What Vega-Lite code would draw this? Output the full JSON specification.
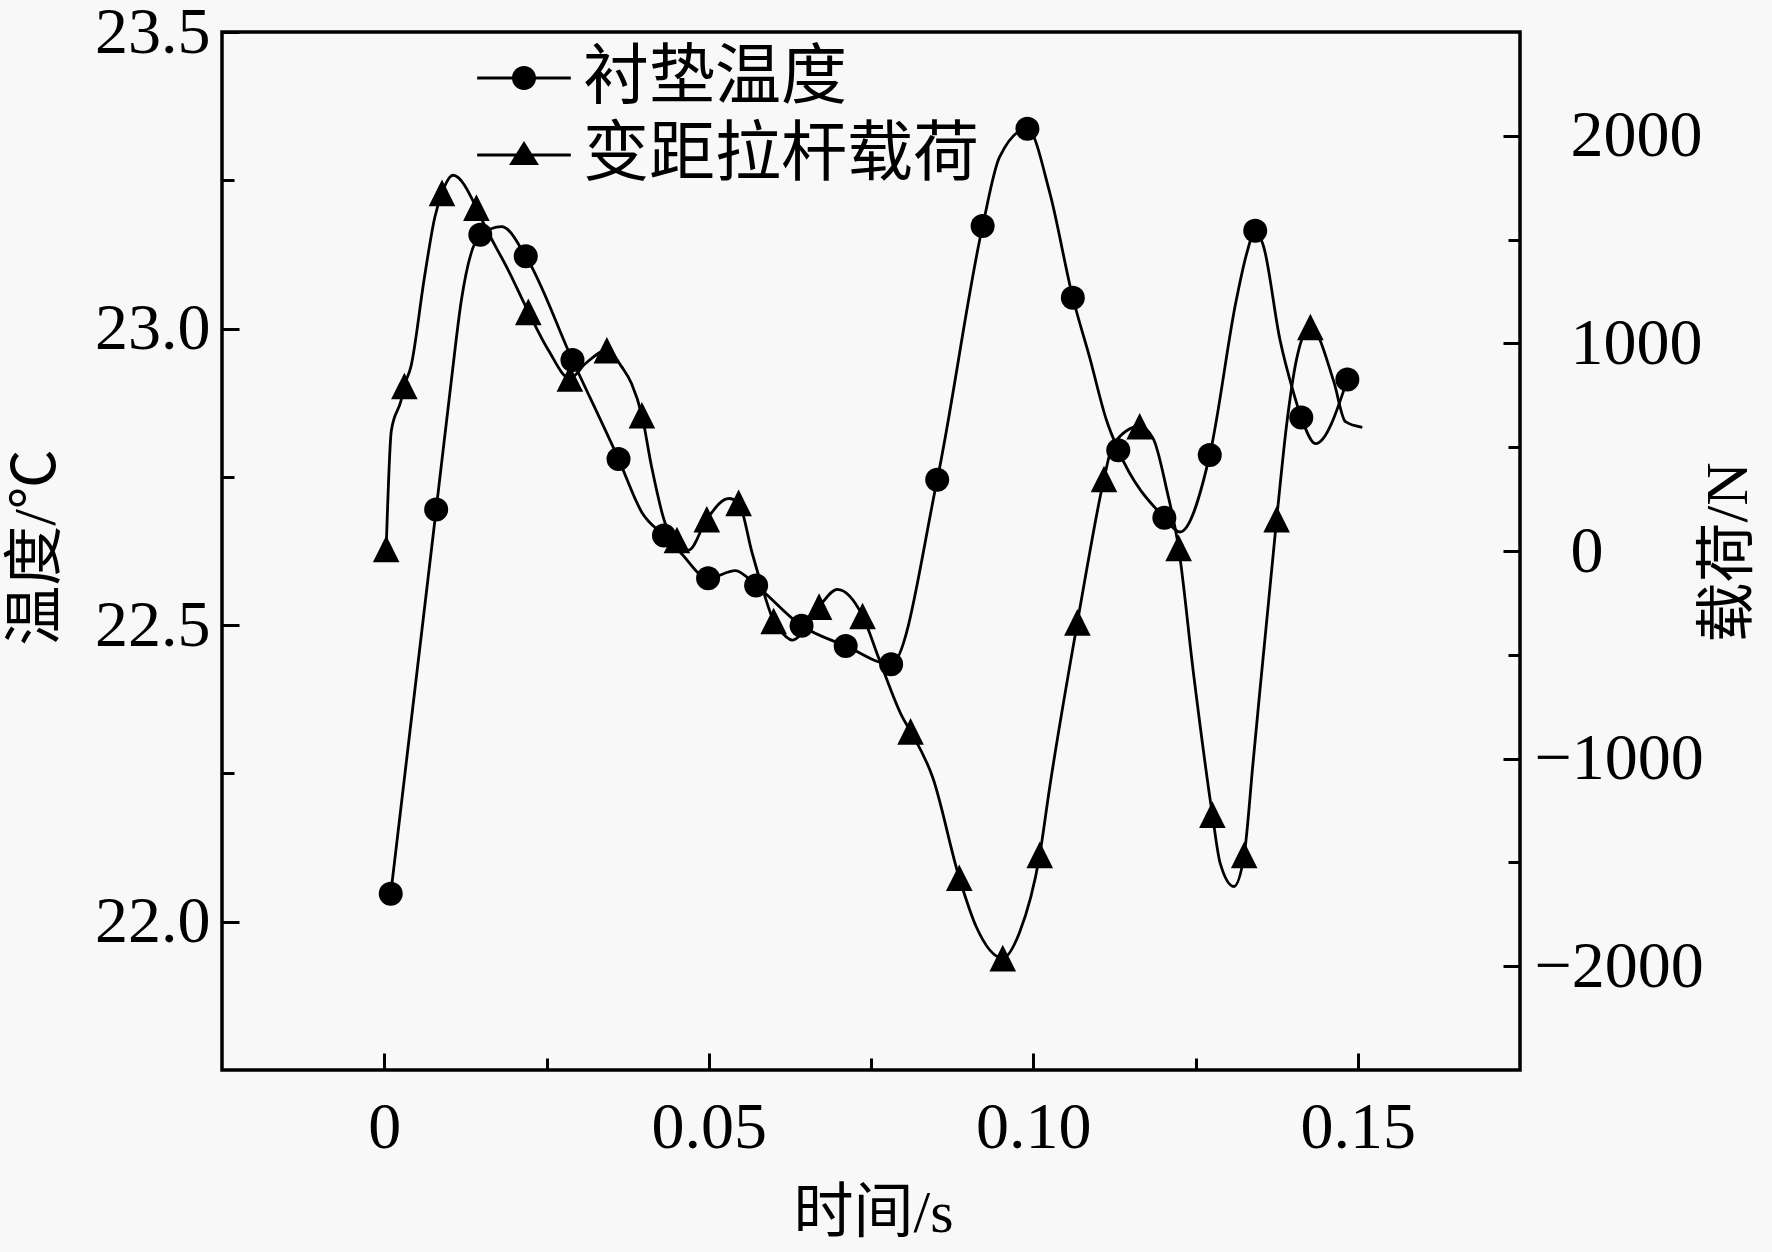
{
  "$schema": "https://vega.github.io/schema/vega-lite/v6.json",
  "autosize": "none",
  "width": 1298,
  "height": 1038,
  "padding": {"left": 222, "top": 32, "right": 252, "bottom": 182},
  "background": "#f8f8f8",
  "datasets": {
    "tempLine": [
      {"t": 0.001, "T": 22.047}, {"t": 0.008, "T": 22.695}, {"t": 0.0103, "T": 22.909}, {"t": 0.0119, "T": 23.049},
      {"t": 0.0148, "T": 23.158}, {"t": 0.0181, "T": 23.172}, {"t": 0.0218, "T": 23.122}, {"t": 0.029, "T": 22.947},
      {"t": 0.0361, "T": 22.78}, {"t": 0.0397, "T": 22.69}, {"t": 0.0431, "T": 22.651}, {"t": 0.0456, "T": 22.623},
      {"t": 0.0499, "T": 22.579}, {"t": 0.0541, "T": 22.592}, {"t": 0.0573, "T": 22.567}, {"t": 0.0643, "T": 22.499},
      {"t": 0.0711, "T": 22.465}, {"t": 0.0781, "T": 22.434}, {"t": 0.0852, "T": 22.745}, {"t": 0.0922, "T": 23.173},
      {"t": 0.0948, "T": 23.289}, {"t": 0.0991, "T": 23.337}, {"t": 0.1025, "T": 23.231}, {"t": 0.1061, "T": 23.052},
      {"t": 0.1087, "T": 22.951}, {"t": 0.1113, "T": 22.845}, {"t": 0.1131, "T": 22.795}, {"t": 0.1202, "T": 22.681},
      {"t": 0.1226, "T": 22.657}, {"t": 0.1272, "T": 22.787}, {"t": 0.1313, "T": 23.049}, {"t": 0.1329, "T": 23.127},
      {"t": 0.1342, "T": 23.165}, {"t": 0.1355, "T": 23.138}, {"t": 0.138, "T": 22.982}, {"t": 0.1401, "T": 22.892},
      {"t": 0.1413, "T": 22.85}, {"t": 0.1435, "T": 22.806}, {"t": 0.1484, "T": 22.914}
    ],
    "tempMarks": [
      {"t": 0.001, "T": 22.047}, {"t": 0.008, "T": 22.695}, {"t": 0.0148, "T": 23.158}, {"t": 0.0218, "T": 23.122},
      {"t": 0.029, "T": 22.947}, {"t": 0.0361, "T": 22.78}, {"t": 0.0431, "T": 22.651}, {"t": 0.0499, "T": 22.579},
      {"t": 0.0573, "T": 22.567}, {"t": 0.0643, "T": 22.499}, {"t": 0.0711, "T": 22.465}, {"t": 0.0781, "T": 22.434},
      {"t": 0.0852, "T": 22.745}, {"t": 0.0922, "T": 23.173}, {"t": 0.0991, "T": 23.337}, {"t": 0.1061, "T": 23.052},
      {"t": 0.1131, "T": 22.795}, {"t": 0.1202, "T": 22.681}, {"t": 0.1272, "T": 22.787}, {"t": 0.1342, "T": 23.165},
      {"t": 0.1413, "T": 22.85}, {"t": 0.1484, "T": 22.914}
    ],
    "loadLine": [
      {"t": 0.0003, "L": 10}, {"t": 0.0011, "L": 582}, {"t": 0.0026, "L": 726}, {"t": 0.0031, "L": 795},
      {"t": 0.0041, "L": 887}, {"t": 0.0062, "L": 1320}, {"t": 0.0078, "L": 1609}, {"t": 0.0089, "L": 1725},
      {"t": 0.0106, "L": 1810}, {"t": 0.0142, "L": 1654}, {"t": 0.0152, "L": 1585}, {"t": 0.0191, "L": 1353},
      {"t": 0.0222, "L": 1152}, {"t": 0.0253, "L": 967}, {"t": 0.0286, "L": 831}, {"t": 0.031, "L": 903},
      {"t": 0.0343, "L": 967}, {"t": 0.0366, "L": 887}, {"t": 0.0381, "L": 807}, {"t": 0.0397, "L": 654},
      {"t": 0.0412, "L": 405}, {"t": 0.0433, "L": 133}, {"t": 0.0451, "L": 53}, {"t": 0.0469, "L": 4},
      {"t": 0.0497, "L": 153}, {"t": 0.0531, "L": 253}, {"t": 0.0546, "L": 232}, {"t": 0.0567, "L": -11},
      {"t": 0.0582, "L": -172}, {"t": 0.06, "L": -337}, {"t": 0.0614, "L": -397}, {"t": 0.0629, "L": -429},
      {"t": 0.067, "L": -268}, {"t": 0.0698, "L": -185}, {"t": 0.0737, "L": -313}, {"t": 0.0763, "L": -525},
      {"t": 0.0798, "L": -798}, {"t": 0.0811, "L": -869}, {"t": 0.0845, "L": -1090}, {"t": 0.0886, "L": -1574},
      {"t": 0.0912, "L": -1809}, {"t": 0.0953, "L": -1961}, {"t": 0.0979, "L": -1836}, {"t": 0.101, "L": -1464},
      {"t": 0.1025, "L": -1145}, {"t": 0.1068, "L": -344}, {"t": 0.1082, "L": -95}, {"t": 0.1109, "L": 347},
      {"t": 0.1123, "L": 513}, {"t": 0.1164, "L": 601}, {"t": 0.1185, "L": 540}, {"t": 0.1206, "L": 291},
      {"t": 0.1224, "L": 15}, {"t": 0.1247, "L": -592}, {"t": 0.1276, "L": -1270}, {"t": 0.1288, "L": -1504},
      {"t": 0.1309, "L": -1616}, {"t": 0.1325, "L": -1464}, {"t": 0.1339, "L": -1008}, {"t": 0.1375, "L": 153},
      {"t": 0.1391, "L": 623}, {"t": 0.1406, "L": 928}, {"t": 0.1427, "L": 1079}, {"t": 0.1463, "L": 817},
      {"t": 0.1481, "L": 623}, {"t": 0.1507, "L": 596}
    ],
    "loadMarks": [
      {"t": 0.0003, "L": 10}, {"t": 0.0031, "L": 795}, {"t": 0.0089, "L": 1725}, {"t": 0.0142, "L": 1654},
      {"t": 0.0222, "L": 1152}, {"t": 0.0286, "L": 831}, {"t": 0.0343, "L": 967}, {"t": 0.0397, "L": 654},
      {"t": 0.0451, "L": 53}, {"t": 0.0497, "L": 153}, {"t": 0.0546, "L": 232}, {"t": 0.06, "L": -337},
      {"t": 0.067, "L": -268}, {"t": 0.0737, "L": -313}, {"t": 0.0811, "L": -869}, {"t": 0.0886, "L": -1574},
      {"t": 0.0953, "L": -1961}, {"t": 0.101, "L": -1464}, {"t": 0.1068, "L": -344}, {"t": 0.1109, "L": 347},
      {"t": 0.1164, "L": 601}, {"t": 0.1224, "L": 15}, {"t": 0.1276, "L": -1270}, {"t": 0.1325, "L": -1464},
      {"t": 0.1375, "L": 153}, {"t": 0.1427, "L": 1079}
    ]
  },
  "encoding": {
    "x": {
      "field": "t",
      "type": "quantitative",
      "scale": {"domain": [-0.025, 0.175], "nice": false, "zero": false},
      "axis": {
        "orient": "bottom",
        "values": [0, 0.025, 0.05, 0.075, 0.1, 0.125, 0.15],
        "labelExpr": "datum.value === 0 ? '0' : (abs(datum.value * 20 - round(datum.value * 20)) < 0.001 ? format(datum.value, '.2f') : '')",
        "tickSize": {"condition": {"test": "abs(datum.value * 20 - round(datum.value * 20)) < 0.001", "value": -17}, "value": -12},
        "labelPadding": 42,
        "title": "时间/s",
        "titleX": 651,
        "titleY": 143,
        "titleAlign": "center",
        "titleBaseline": "middle"
      }
    }
  },
  "layer": [
    {
      "encoding": {
        "y": {
          "field": "T",
          "type": "quantitative",
          "scale": {"domain": [21.75, 23.5], "nice": false, "zero": false},
          "axis": {
            "orient": "left",
            "values": [22, 22.25, 22.5, 22.75, 23, 23.25, 23.5],
            "labelExpr": "abs(datum.value * 2 - round(datum.value * 2)) < 0.001 ? format(datum.value, '.1f') : ''",
            "tickSize": {"condition": {"test": "abs(datum.value * 2 - round(datum.value * 2)) < 0.001", "value": -17}, "value": -12},
            "labelPadding": 29,
            "title": "温度/℃",
            "titleAngle": 270,
            "titleX": -186,
            "titleY": 515,
            "titleAlign": "center",
            "titleBaseline": "middle"
          }
        }
      },
      "layer": [
        {
          "data": {"name": "tempLine"},
          "mark": {"type": "line", "interpolate": "monotone", "color": "black", "strokeWidth": 2.8}
        },
        {
          "data": {"name": "tempMarks"},
          "mark": {"type": "point", "shape": "circle", "filled": true, "color": "black", "opacity": 1, "size": 576}
        },
        {
          "data": {"values": []},
          "mark": {"type": "point", "filled": true, "color": "black", "opacity": 1},
          "encoding": {
            "shape": {
              "datum": "衬垫温度",
              "scale": {
                "domain": ["衬垫温度", "变距拉杆载荷"],
                "range": [
                  "M-3.9,-0.115L-0.9,-0.115L-0.9,0.115L-3.9,0.115Z M0.9,-0.115L3.9,-0.115L3.9,0.115L0.9,0.115Z M1,0A1,1,0,1,1,-1,0A1,1,0,1,1,1,0Z",
                  "M-3.9,-0.115L-0.6,-0.115L-0.6,0.115L-3.9,0.115Z M0.6,-0.115L3.9,-0.115L3.9,0.115L0.6,0.115Z M0,-1.17L1.25,0.83L-1.25,0.83Z"
                ]
              },
              "legend": {
                "orient": "none",
                "legendX": 269,
                "legendY": 13,
                "title": null,
                "padding": 0,
                "labelFont": "Liberation Serif, Noto Sans CJK SC",
                "labelFontSize": 66,
                "labelColor": "black",
                "labelLimit": 0,
                "labelOffset": 26,
                "rowPadding": 11,
                "symbolSize": 576,
                "symbolFillColor": "black",
                "symbolOpacity": 1
              }
            }
          }
        }
      ]
    },
    {
      "encoding": {
        "y": {
          "field": "L",
          "type": "quantitative",
          "scale": {"domain": [-2500, 2500], "nice": false, "zero": false},
          "axis": {
            "orient": "right",
            "values": [-2000, -1500, -1000, -500, 0, 500, 1000, 1500, 2000],
            "labelExpr": "datum.value % 1000 === 0 ? format(datum.value, 'd') : ''",
            "tickSize": {"condition": {"test": "datum.value % 1000 === 0", "value": -17}, "value": -12},
            "labelPadding": {"condition": {"test": "datum.value < 0", "value": 31}, "value": 67},
            "labelAlign": "left",
            "title": "载荷/N",
            "titleAngle": 270,
            "titleX": 208,
            "titleY": 520,
            "titleAlign": "center",
            "titleBaseline": "middle"
          }
        }
      },
      "layer": [
        {
          "data": {"name": "loadLine"},
          "mark": {"type": "line", "interpolate": "monotone", "color": "black", "strokeWidth": 2.8}
        },
        {
          "data": {"name": "loadMarks"},
          "mark": {"type": "point", "shape": "M0,-1L1,1L-1,1Z", "filled": true, "color": "black", "opacity": 1, "size": 708}
        },
        {
          "data": {"values": []},
          "mark": {"type": "point", "filled": true, "color": "black", "opacity": 1},
          "encoding": {
            "shape": {"datum": "变距拉杆载荷"}
          }
        }
      ]
    }
  ],
  "resolve": {"scale": {"y": "independent"}},
  "config": {
    "view": {"stroke": "black", "strokeWidth": 3.5},
    "axis": {
      "grid": false,
      "domain": false,
      "tickColor": "black",
      "tickWidth": 3,
      "labelColor": "black",
      "labelFont": "Liberation Serif",
      "labelFontSize": 66,
      "labelOverlap": false,
      "labelFlush": false,
      "labelBound": false,
      "titleFont": "Liberation Serif, Noto Sans CJK SC",
      "titleFontSize": 60,
      "titleFontWeight": "normal",
      "titleColor": "black"
    }
  }
}
